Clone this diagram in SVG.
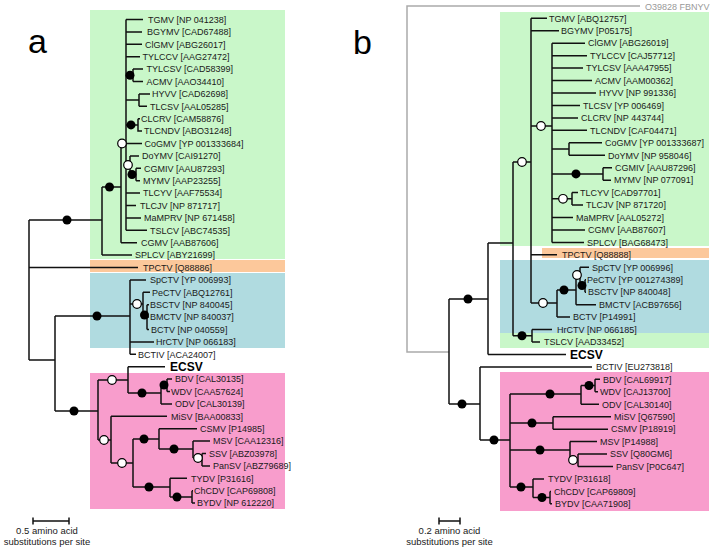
<svg xmlns="http://www.w3.org/2000/svg" width="720" height="551" viewBox="0 0 720 551">
<style>
.lbl{font-family:"Liberation Sans",Arial,sans-serif;font-size:9px;fill:#1a1a1a}
.ecsv{font-family:"Liberation Sans",Arial,sans-serif;font-size:12px;font-weight:bold;fill:#000}
.big{font-family:"Liberation Sans",Arial,sans-serif;font-size:34px;fill:#000}
.sc{font-family:"Liberation Sans",Arial,sans-serif;font-size:9.5px;fill:#1a1a1a;text-anchor:middle}
.br{fill:none;stroke:#111;stroke-width:1.5}
.f{fill:#000}
.w{fill:#fff;stroke:#000;stroke-width:1.2}
</style>
<rect width="720" height="551" fill="#fff"/>
<g id="boxes">
<rect x="90" y="10" width="195" height="249" fill="#c9f7c9"/>
<rect x="90" y="260" width="195" height="12" fill="#fcc89b"/>
<rect x="90" y="273" width="195" height="75" fill="#b0dbe0"/>
<rect x="90" y="373" width="195" height="136" fill="#f89dcc"/>
<rect x="500" y="12" width="209" height="234" fill="#c9f7c9"/>
<rect x="542" y="248" width="167" height="10" fill="#fcc89b"/>
<rect x="500" y="260" width="209" height="73" fill="#b0dbe0"/>
<rect x="500" y="333" width="209" height="15" fill="#c9f7c9"/>
<rect x="500" y="372" width="209" height="139" fill="#f89dcc"/>
</g>
<text class="big" x="28" y="53">a</text>
<text class="big" x="353" y="54">b</text>
<g id="connectors">
<path class="br" d="M29,220 V360 M29,220 H102 M102,187 V255.1 M102,187 H121 M121,143.5 V242.7 M121,143.5 H126 M126,19.5 V230.3
M126,19.5 H143 M126,31.9 H142 M126,44.3 H142 M126,56.7 H140
M126,75.3 H133 M133,69.1 V81.5 M133,69.1 H143 M133,81.5 H143
M126,100.1 H139 M139,93.9 V106.3 M139,93.9 H150 M139,106.3 H147
M126,124.9 H138 M138,118.7 V131.1 H142 M138,118.7 H140
M126,143.5 H142
M126,165 H130 M130,155.9 V174.5 M130,155.9 H139 M130,174.5 H136 M136,168.3 V180.7 M136,168.3 H141 M136,180.7 H140
M126,193.1 H140 M126,205.5 H136 M126,217.9 H141 M126,230.3 H147
M121,242.7 H137 M102,255.1 H132 M29,267.5 H138
M29,360 H55 M55,316 V411 M55,316 H130 M130,279.9 V354.3 M130,279.9 H146
M130,304 H143 M143,292.3 V315 M143,292.3 H150 M143,315 H147 M147,304.7 V329.5 M147,304.7 H149 M147,317.1 H149 M147,329.5 H149
M130,341.9 H154 M130,354.3 H136
M55,411 H98 M98,380 V440 M98,380 H128 M128,366.7 V393 M128,366.7 H165
M128,393 H161 M161,385 V403.9 M161,385 H167 M167,379.1 V391.5 M167,379.1 H172 M167,391.5 H170 M161,403.9 H172
M98,440 H111 M111,416.3 V463 M111,416.3 H167
M111,463 H133 M133,439 V487
M133,439 H159 M159,428.7 V449 M159,428.7 H197
M159,449 H193 M193,441.1 V458 M193,441.1 H210
M193,458 H202 M202,453.5 V465.9 M202,453.5 H206 M202,465.9 H210
M133,487 H170 M170,478.3 V497 M170,478.3 H187
M170,497 H192 M192,490.7 V503.1 M192,490.7 H193 M192,503.1 H195"/>
<path fill="none" stroke="#aaa" stroke-width="1.5" d="M449,352 H407 V6 H640"/>
<path class="br" d="M449,299 V404 M449,299 H488 M488,243 V354.45 M488,354.45 H566 M488,243 H513 M513,162 V335.8 M513,162 H531 M531,18.3 V303
M531,18.3 H547 M531,30.75 H559 M531,126 H552 M552,43.2 V242.4
M552,43.2 H585 M552,55.65 H587 M552,68.1 H583 M552,80.55 H592 M552,93 H596 M552,105.45 H580 M552,117.9 H578 M552,130.35 H587
M552,149 H569 M569,142.8 V155.25 M569,142.8 H602 M569,155.25 H605
M552,173.9 H603 M603,167.7 V180.15 M603,167.7 H612 M603,180.15 H611
M552,198.8 H572 M572,192.6 V205.05 M572,192.6 H578 M572,205.05 H583
M552,217.5 H573 M552,229.95 H585 M552,242.4 H584
M531,254.85 H557 M531,303 H557 M557,290 V317.1 M557,317.1 H570 M557,290 H576 M576,275 V304.65 M576,304.65 H596 M576,275 H580
M580,267.3 V285.9 M580,267.3 H589 M580,285.9 H585 M585,279.75 V292.2 M585,279.75 H586 M585,292.2 H586
M513,335.8 H532 M532,329.55 V342 M532,329.55 H552 M532,342 H540
M449,404 H480 M480,366.9 V440 M480,366.9 H592 M480,440 H510 M510,394 V487
M510,394 H581 M581,385.5 V404.25 M581,385.5 H595 M595,379.35 V391.8 M595,379.35 H600 M595,391.8 H598 M581,404.25 H599
M510,423 H553 M553,416.7 V429.15 M553,416.7 H611 M553,429.15 H608
M510,450 H570 M570,441.6 V460 M570,441.6 H597 M570,460 H578 M578,454.05 V466.5 M578,454.05 H607 M578,466.5 H613
M510,487 H533 M533,478.95 V497.5 M533,478.95 H544 M533,497.5 H550 M550,491.4 V503.85 M550,491.4 H551 M550,503.85 H552"/>
<path class="br" d="M33,521 H69 M33,517.5 V524.5 M69,517.5 V524.5 M439,521 H460 M439,517.5 V524.5 M460,517.5 V524.5"/>
</g>
<g id="support-nodes">
<circle class="f" cx="67" cy="220" r="4.5"/><circle class="f" cx="109.5" cy="187" r="4.5"/>
<circle class="f" cx="130" cy="75.3" r="4.5"/><circle class="f" cx="131" cy="124.9" r="4.5"/>
<circle class="f" cx="132" cy="174.5" r="4.5"/><circle class="f" cx="97" cy="316" r="4.5"/>
<circle class="f" cx="144.5" cy="315" r="4.5"/><circle class="f" cx="74" cy="411" r="4.5"/>
<circle class="f" cx="142" cy="393" r="4.5"/><circle class="f" cx="164" cy="385" r="4.5"/>
<circle class="f" cx="144" cy="439" r="4.5"/><circle class="f" cx="174" cy="449" r="4.5"/>
<circle class="f" cx="149" cy="487" r="4.5"/><circle class="f" cx="177" cy="497" r="4.5"/>
<circle class="w" cx="122" cy="143.5" r="4.3"/><circle class="w" cx="128" cy="165" r="4.3"/>
<circle class="w" cx="137" cy="304" r="4.3"/><circle class="w" cx="112" cy="380" r="4.3"/>
<circle class="w" cx="104" cy="440" r="4.3"/><circle class="w" cx="122" cy="463" r="4.3"/>
<circle class="w" cx="198" cy="458" r="4.3"/>
<circle class="f" cx="468" cy="299" r="4.5"/><circle class="f" cx="522" cy="335.8" r="4.5"/>
<circle class="f" cx="576" cy="173.9" r="4.5"/><circle class="f" cx="564" cy="290" r="4.5"/>
<circle class="f" cx="582" cy="285.5" r="4.5"/><circle class="f" cx="462" cy="404" r="4.5"/>
<circle class="f" cx="494" cy="440" r="4.5"/><circle class="f" cx="550" cy="394" r="4.5"/>
<circle class="f" cx="589" cy="385.5" r="4.5"/><circle class="f" cx="532" cy="423" r="4.5"/>
<circle class="f" cx="540" cy="450" r="4.5"/><circle class="f" cx="521" cy="487" r="4.5"/>
<circle class="f" cx="542" cy="497.5" r="4.5"/>
<circle class="w" cx="522" cy="162" r="4.3"/><circle class="w" cx="541" cy="126" r="4.3"/>
<circle class="w" cx="563" cy="198.8" r="4.3"/><circle class="w" cx="543" cy="303" r="4.3"/>
<circle class="w" cx="577" cy="275" r="4.3"/><circle class="w" cx="573" cy="460" r="4.3"/>
</g>
<g id="tree-a-leaves">
<g id="a-TGMV"><text class="lbl" x="148" y="22.7">TGMV [NP 041238]</text></g>
<g id="a-BGYMV"><text class="lbl" x="147" y="35.1">BGYMV [CAD67488]</text></g>
<g id="a-ClGMV"><text class="lbl" x="145" y="47.5">ClGMV [ABG26017]</text></g>
<g id="a-TYLCCV"><text class="lbl" x="142.5" y="59.9">TYLCCV [AAG27472]</text></g>
<g id="a-TYLCSV"><text class="lbl" x="146.5" y="72.3">TYLCSV [CAD58399]</text></g>
<g id="a-ACMV"><text class="lbl" x="146.5" y="84.7">ACMV [AAO34410]</text></g>
<g id="a-HYVV"><text class="lbl" x="152" y="97.1">HYVV [CAD62698]</text></g>
<g id="a-TLCSV"><text class="lbl" x="150" y="109.5">TLCSV [AAL05285]</text></g>
<g id="a-CLCRV"><text class="lbl" x="141" y="121.9">CLCRV [CAM58876]</text></g>
<g id="a-TLCNDV"><text class="lbl" x="144" y="134.3">TLCNDV [ABO31248]</text></g>
<g id="a-CoGMV"><text class="lbl" x="144.5" y="146.7">CoGMV [YP 001333684]</text></g>
<g id="a-DoYMV"><text class="lbl" x="142" y="159.1">DoYMV [CAI91270]</text></g>
<g id="a-CGMIV"><text class="lbl" x="144" y="171.5">CGMIV [AAU87293]</text></g>
<g id="a-MYMV"><text class="lbl" x="143" y="183.9">MYMV [AAP23255]</text></g>
<g id="a-TLCYV"><text class="lbl" x="143" y="196.3">TLCYV [AAF75534]</text></g>
<g id="a-TLCJV"><text class="lbl" x="140" y="208.7">TLCJV [NP 871717]</text></g>
<g id="a-MaMPRV"><text class="lbl" x="144" y="221.1">MaMPRV [NP 671458]</text></g>
<g id="a-TSLCV"><text class="lbl" x="150" y="233.5">TSLCV [ABC74535]</text></g>
<g id="a-CGMV"><text class="lbl" x="141" y="245.9">CGMV [AAB87606]</text></g>
<g id="a-SPLCV"><text class="lbl" x="135" y="258.3">SPLCV [ABY21699]</text></g>
<g id="a-TPCTV"><text class="lbl" x="143" y="270.7">TPCTV [Q88886]</text></g>
<g id="a-SpCTV"><text class="lbl" x="150" y="283.1">SpCTV [YP 006993]</text></g>
<g id="a-PeCTV"><text class="lbl" x="152" y="295.5">PeCTV [ABQ12761]</text></g>
<g id="a-BSCTV"><text class="lbl" x="150" y="307.9">BSCTV [NP 840045]</text></g>
<g id="a-BMCTV"><text class="lbl" x="150" y="320.3">BMCTV [NP 840037]</text></g>
<g id="a-BCTV"><text class="lbl" x="151" y="332.7">BCTV [NP 040559]</text></g>
<g id="a-HrCTV"><text class="lbl" x="156" y="345.1">HrCTV [NP 066183]</text></g>
<g id="a-BCTIV"><text class="lbl" x="138" y="357.5">BCTIV [ACA24007]</text></g>
<g id="a-ECSV"><text class="ecsv" x="170" y="371">ECSV</text></g>
<g id="a-BDV"><text class="lbl" x="175" y="382.3">BDV [CAL30135]</text></g>
<g id="a-WDV"><text class="lbl" x="171" y="394.7">WDV [CAA57624]</text></g>
<g id="a-ODV"><text class="lbl" x="175" y="407.1">ODV [CAL30139]</text></g>
<g id="a-MiSV"><text class="lbl" x="171" y="419.5">MiSV [BAA00833]</text></g>
<g id="a-CSMV"><text class="lbl" x="200" y="431.9">CSMV [P14985]</text></g>
<g id="a-MSV"><text class="lbl" x="213" y="444.3">MSV [CAA12316]</text></g>
<g id="a-SSV"><text class="lbl" x="209" y="456.7">SSV [ABZ03978]</text></g>
<g id="a-PanSV"><text class="lbl" x="213" y="469.1">PanSV [ABZ79689]</text></g>
<g id="a-TYDV"><text class="lbl" x="191" y="481.5">TYDV [P31616]</text></g>
<g id="a-ChCDV"><text class="lbl" x="194" y="493.9">ChCDV [CAP69808]</text></g>
<g id="a-BYDV"><text class="lbl" x="197" y="506.3">BYDV [NP 612220]</text></g>
</g>
<g id="tree-b-leaves">
<g id="b-FBNYV"><text class="lbl" x="645" y="9.5" style="fill:#999">O39828 FBNYV</text></g>
<g id="b-TGMV"><text class="lbl" x="549" y="21.5">TGMV [ABQ12757]</text></g>
<g id="b-BGYMV"><text class="lbl" x="561" y="34">BGYMV [P05175]</text></g>
<g id="b-ClGMV"><text class="lbl" x="588" y="46.4">ClGMV [ABG26019]</text></g>
<g id="b-TYLCCV"><text class="lbl" x="590" y="58.9">TYLCCV [CAJ57712]</text></g>
<g id="b-TYLCSV"><text class="lbl" x="586" y="71.3">TYLCSV [AAA47955]</text></g>
<g id="b-ACMV"><text class="lbl" x="595" y="83.8">ACMV [AAM00362]</text></g>
<g id="b-HYVV"><text class="lbl" x="599" y="96.2">HYVV [NP 991336]</text></g>
<g id="b-TLCSV"><text class="lbl" x="583" y="108.7">TLCSV [YP 006469]</text></g>
<g id="b-CLCRV"><text class="lbl" x="581" y="121.1">CLCRV [NP 443744]</text></g>
<g id="b-TLCNDV"><text class="lbl" x="590" y="133.6">TLCNDV [CAF04471]</text></g>
<g id="b-CoGMV"><text class="lbl" x="605" y="146">CoGMV [YP 001333687]</text></g>
<g id="b-DoYMV"><text class="lbl" x="608" y="158.5">DoYMV [NP 958046]</text></g>
<g id="b-CGMIV"><text class="lbl" x="615" y="170.9">CGMIV [AAU87296]</text></g>
<g id="b-MYMV"><text class="lbl" x="614" y="183.4">MYMV [NP 077091]</text></g>
<g id="b-TLCYV"><text class="lbl" x="580" y="195.8">TLCYV [CAD97701]</text></g>
<g id="b-TLCJV"><text class="lbl" x="586" y="208.3">TLCJV [NP 871720]</text></g>
<g id="b-MaMPRV"><text class="lbl" x="576" y="220.7">MaMPRV [AAL05272]</text></g>
<g id="b-CGMV"><text class="lbl" x="588" y="233.2">CGMV [AAB87607]</text></g>
<g id="b-SPLCV"><text class="lbl" x="587" y="245.6">SPLCV [BAG68473]</text></g>
<g id="b-TPCTV"><text class="lbl" x="562" y="258.1">TPCTV [Q88888]</text></g>
<g id="b-SpCTV"><text class="lbl" x="592" y="270.5">SpCTV [YP 006996]</text></g>
<g id="b-PeCTV"><text class="lbl" x="587" y="283">PeCTV [YP 001274389]</text></g>
<g id="b-BSCTV"><text class="lbl" x="588" y="295.4">BSCTV [NP 840048]</text></g>
<g id="b-BMCTV"><text class="lbl" x="599" y="307.9">BMCTV [ACB97656]</text></g>
<g id="b-BCTV"><text class="lbl" x="573" y="320.3">BCTV [P14991]</text></g>
<g id="b-HrCTV"><text class="lbl" x="557" y="332.8">HrCTV [NP 066185]</text></g>
<g id="b-TSLCV"><text class="lbl" x="544" y="345.2">TSLCV [AAD33452]</text></g>
<g id="b-ECSV"><text class="ecsv" x="570" y="358.7">ECSV</text></g>
<g id="b-BCTIV"><text class="lbl" x="596" y="370.1">BCTIV [EU273818]</text></g>
<g id="b-BDV"><text class="lbl" x="603" y="382.6">BDV [CAL69917]</text></g>
<g id="b-WDV"><text class="lbl" x="600" y="395">WDV [CAJ13700]</text></g>
<g id="b-ODV"><text class="lbl" x="602" y="407.5">ODV [CAL30140]</text></g>
<g id="b-MiSV"><text class="lbl" x="614" y="419.9">MiSV [Q67590]</text></g>
<g id="b-CSMV"><text class="lbl" x="611" y="432.4">CSMV [P18919]</text></g>
<g id="b-MSV"><text class="lbl" x="600" y="444.8">MSV [P14988]</text></g>
<g id="b-SSV"><text class="lbl" x="610" y="457.3">SSV [Q80GM6]</text></g>
<g id="b-PanSV"><text class="lbl" x="616" y="469.7">PanSV [P0C647]</text></g>
<g id="b-TYDV"><text class="lbl" x="548" y="482.2">TYDV [P31618]</text></g>
<g id="b-ChCDV"><text class="lbl" x="554" y="494.6">ChCDV [CAP69809]</text></g>
<g id="b-BYDV"><text class="lbl" x="555" y="507.1">BYDV [CAA71908]</text></g>
</g>
<g id="scales">
<text class="sc" x="47" y="533.5">0.5 amino acid</text>
<text class="sc" x="47" y="544.5">substitutions per site</text>
<text class="sc" x="449.5" y="533.5">0.2 amino acid</text>
<text class="sc" x="449.5" y="544.5">substitutions per site</text>
</g>
</svg>
